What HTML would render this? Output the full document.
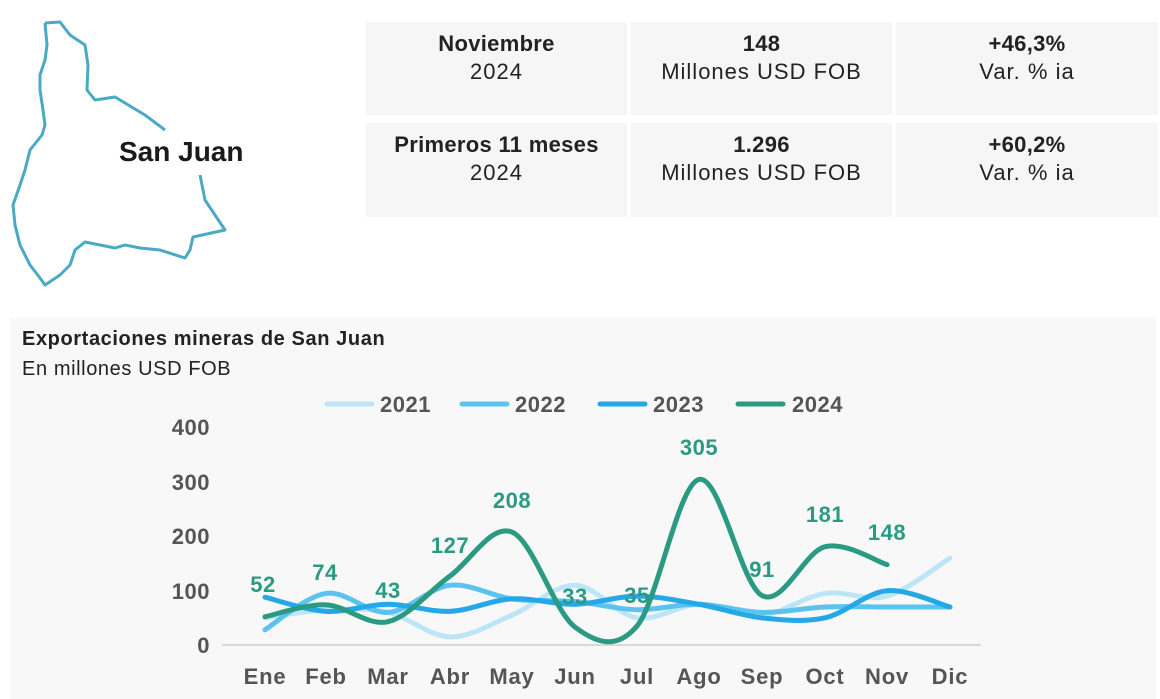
<!DOCTYPE html>
<html><head><meta charset="utf-8"><style>
body{margin:0;width:1160px;height:699px;background:#fff;font-family:"Liberation Sans",sans-serif;position:relative;overflow:hidden}
.box{position:absolute;background:#f6f6f6;text-align:center;color:#222;font-size:22px;line-height:28px;padding-top:8px;box-sizing:border-box;letter-spacing:1px}
.box b{font-size:22px;letter-spacing:0.3px}
</style></head><body>
<svg style="position:absolute;left:0;top:0" width="360" height="300">
<path d="M45,23 L60,22 L70,35 L85,45 L88,65 L87,90 L95,100 L115,97 L125,103 L145,115 L165,130" fill="none" stroke="#4aa9c4" stroke-width="3" stroke-linejoin="round"/>
<path d="M200,175 L205,200 L215,215 L225,230 L193,237 L190,250 L185,258 L160,250 L140,248 L125,245 L115,248 L100,245 L85,242 L75,250 L70,265 L60,275 L45,285 L40,278 L30,265 L20,245 L15,225 L13,205 L20,185 L25,170 L30,150 L42,135 L45,125 L43,110 L40,90 L40,75 L45,60 L47,45 L45,23" fill="none" stroke="#4aa9c4" stroke-width="3" stroke-linejoin="round"/>
<text x="119" y="161" font-family="Liberation Sans" font-weight="bold" font-size="28" fill="#1a1a1a" letter-spacing="0">San Juan</text>
</svg>
<div class="box" style="left:366px;top:22px;width:261px;height:93px"><b>Noviembre</b><br>2024</div>
<div class="box" style="left:631px;top:22px;width:261px;height:93px"><b>148</b><br>Millones USD FOB</div>
<div class="box" style="left:896px;top:22px;width:262px;height:93px"><b>+46,3%</b><br>Var. % ia</div>
<div class="box" style="left:366px;top:123px;width:261px;height:94px"><b>Primeros 11 meses</b><br>2024</div>
<div class="box" style="left:631px;top:123px;width:261px;height:94px"><b>1.296</b><br>Millones USD FOB</div>
<div class="box" style="left:896px;top:123px;width:262px;height:94px"><b>+60,2%</b><br>Var. % ia</div>
<svg id="ch" style="position:absolute;left:0;top:0" width="1160" height="699">
<rect x="10" y="318" width="1146" height="381" fill="#f8f8f8"/>
<text x="22" y="345" font-weight="bold" font-size="20" fill="#222" letter-spacing="0.6">Exportaciones mineras de San Juan</text>
<text x="22" y="375" font-size="20" fill="#222" letter-spacing="0.6">En millones USD FOB</text>
<line x1="222" y1="645" x2="981" y2="645" stroke="#d8d8d8" stroke-width="2"/>
<g font-weight="bold" font-size="22" fill="#555" text-anchor="end" letter-spacing="0.5">
<text x="210" y="435">400</text><text x="210" y="490">300</text><text x="210" y="544">200</text><text x="210" y="599">100</text><text x="210" y="653">0</text>
</g>
<g font-weight="bold" font-size="22" fill="#555" text-anchor="middle" letter-spacing="0.8">
<text x="265" y="684">Ene</text><text x="326" y="684">Feb</text><text x="388" y="684">Mar</text><text x="450" y="684">Abr</text><text x="512" y="684">May</text><text x="575" y="684">Jun</text><text x="637" y="684">Jul</text><text x="699" y="684">Ago</text><text x="762" y="684">Sep</text><text x="825" y="684">Oct</text><text x="887" y="684">Nov</text><text x="950" y="684">Dic</text>
</g>
<g stroke-width="5" stroke-linecap="round">
<line x1="327" y1="404" x2="372" y2="404" stroke="#bde5f8"/>
<line x1="462" y1="404" x2="507" y2="404" stroke="#5cc3f0"/>
<line x1="600" y1="404" x2="645" y2="404" stroke="#25a8e6"/>
<line x1="738" y1="404" x2="783" y2="404" stroke="#2a9a83"/>
</g>
<g font-weight="bold" font-size="22" fill="#555" letter-spacing="0.5">
<text x="380" y="412">2021</text><text x="515" y="412">2022</text><text x="653" y="412">2023</text><text x="792" y="412">2024</text>
</g>
<g id="lines" fill="none" stroke-width="5" stroke-linecap="round"></g>
<g font-weight="bold" font-size="22" fill="#2a9a83" text-anchor="middle" letter-spacing="0.5">
<text x="263" y="592">52</text><text x="325" y="580">74</text><text x="388" y="598">43</text><text x="450" y="553">127</text><text x="512" y="508">208</text><text x="575" y="604">33</text><text x="637" y="603">35</text><text x="699" y="455">305</text><text x="762" y="577">91</text><text x="825" y="522">181</text><text x="887" y="540">148</text>
</g>
</svg>
<script>
var X=[265,326,388,450,512,575,637,699,762,825,887,950];
function y(v){return 645-v*0.543;}
var S=[
["#bde5f8",[50,65,60,15,55,110,50,75,55,95,90,160]],
["#5cc3f0",[28,95,60,110,85,80,65,75,60,70,70,70]],
["#25a8e6",[88,62,75,62,85,75,90,75,50,50,100,70]],
["#2a9a83",[52,74,43,127,208,33,35,305,91,181,148]]];
var g=document.getElementById("lines"),h="";
S.forEach(function(s){var v=s[1],n=v.length,P=[];for(var i=0;i<n;i++)P.push([X[i],y(v[i])]);
var d="M"+P[0][0]+","+P[0][1];
for(var i=0;i<n-1;i++){var p0=P[Math.max(i-1,0)],p1=P[i],p2=P[i+1],p3=P[Math.min(i+2,n-1)];
var c1=[p1[0]+(p2[0]-p0[0])/6,p1[1]+(p2[1]-p0[1])/6],c2=[p2[0]-(p3[0]-p1[0])/6,p2[1]-(p3[1]-p1[1])/6];
d+=" C"+c1+" "+c2+" "+p2;}
h+='<path d="'+d+'" stroke="'+s[0]+'"/>';});
g.innerHTML=h;
</script>
</body></html>
